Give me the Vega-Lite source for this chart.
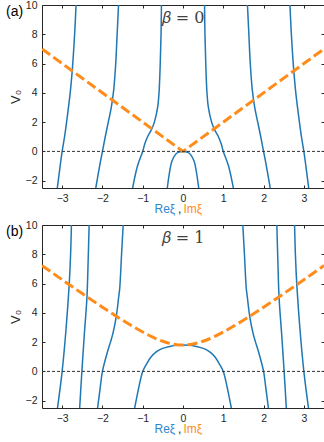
{
  "$schema": "https://vega.github.io/schema/vega-lite/v6.json",
  "padding": {"left": 5, "top": -1, "right": 0, "bottom": 0},
  "background": "white",
  "spacing": 4,
  "config": {
    "view": {"stroke": "#262626", "strokeWidth": 1},
    "axis": {"labelFont": "Liberation Sans", "labelFontSize": 10.5, "labelColor": "#262626", "titleFont": "Liberation Sans", "titleFontWeight": "normal", "titleFontSize": 12, "titleColor": "#262626", "domain": false, "grid": false, "tickColor": "#262626", "tickSize": -3, "labelPadding": 8},
    "title": {"font": "Liberation Sans", "fontSize": 14, "fontWeight": "normal", "color": "#000000"}
  },
  "datasets": {
    "blueA": [
      {"c": "a0R", "x": 0, "y": 0}, {"c": "a0R", "x": 0.06, "y": -0.02}, {"c": "a0R", "x": 0.12, "y": -0.07}, {"c": "a0R", "x": 0.17, "y": -0.16}, {"c": "a0R", "x": 0.21, "y": -0.3}, {"c": "a0R", "x": 0.25, "y": -0.5}, {"c": "a0R", "x": 0.29, "y": -0.8}, {"c": "a0R", "x": 0.32, "y": -1.2}, {"c": "a0R", "x": 0.355, "y": -1.8}, {"c": "a0R", "x": 0.39, "y": -2.5},
      {"c": "a0L", "x": 0, "y": 0}, {"c": "a0L", "x": -0.06, "y": -0.02}, {"c": "a0L", "x": -0.12, "y": -0.07}, {"c": "a0L", "x": -0.17, "y": -0.16}, {"c": "a0L", "x": -0.21, "y": -0.3}, {"c": "a0L", "x": -0.25, "y": -0.5}, {"c": "a0L", "x": -0.29, "y": -0.8}, {"c": "a0L", "x": -0.32, "y": -1.2}, {"c": "a0L", "x": -0.355, "y": -1.8}, {"c": "a0L", "x": -0.39, "y": -2.5},
      {"c": "a1R", "x": 1.25, "y": -2.5}, {"c": "a1R", "x": 1.13, "y": -1}, {"c": "a1R", "x": 1.0, "y": 0}, {"c": "a1R", "x": 0.95, "y": 0.5}, {"c": "a1R", "x": 0.88, "y": 1}, {"c": "a1R", "x": 0.78, "y": 1.5}, {"c": "a1R", "x": 0.71, "y": 2}, {"c": "a1R", "x": 0.63, "y": 3}, {"c": "a1R", "x": 0.595, "y": 4}, {"c": "a1R", "x": 0.565, "y": 6}, {"c": "a1R", "x": 0.545, "y": 8}, {"c": "a1R", "x": 0.535, "y": 10},
      {"c": "a1L", "x": -1.25, "y": -2.5}, {"c": "a1L", "x": -1.13, "y": -1}, {"c": "a1L", "x": -1.0, "y": 0}, {"c": "a1L", "x": -0.95, "y": 0.5}, {"c": "a1L", "x": -0.88, "y": 1}, {"c": "a1L", "x": -0.78, "y": 1.5}, {"c": "a1L", "x": -0.71, "y": 2}, {"c": "a1L", "x": -0.63, "y": 3}, {"c": "a1L", "x": -0.595, "y": 4}, {"c": "a1L", "x": -0.565, "y": 6}, {"c": "a1L", "x": -0.545, "y": 8}, {"c": "a1L", "x": -0.535, "y": 10},
      {"c": "a2R", "x": 2.165, "y": -2.5}, {"c": "a2R", "x": 2.07, "y": -1}, {"c": "a2R", "x": 2.0, "y": 0}, {"c": "a2R", "x": 1.93, "y": 1}, {"c": "a2R", "x": 1.855, "y": 2}, {"c": "a2R", "x": 1.78, "y": 3}, {"c": "a2R", "x": 1.72, "y": 4.2}, {"c": "a2R", "x": 1.67, "y": 6}, {"c": "a2R", "x": 1.635, "y": 8}, {"c": "a2R", "x": 1.6, "y": 10},
      {"c": "a2L", "x": -2.165, "y": -2.5}, {"c": "a2L", "x": -2.07, "y": -1}, {"c": "a2L", "x": -2.0, "y": 0}, {"c": "a2L", "x": -1.93, "y": 1}, {"c": "a2L", "x": -1.855, "y": 2}, {"c": "a2L", "x": -1.78, "y": 3}, {"c": "a2L", "x": -1.72, "y": 4.2}, {"c": "a2L", "x": -1.67, "y": 6}, {"c": "a2L", "x": -1.635, "y": 8}, {"c": "a2L", "x": -1.6, "y": 10},
      {"c": "a3R", "x": 3.12, "y": -2.5}, {"c": "a3R", "x": 3.05, "y": -1}, {"c": "a3R", "x": 3.0, "y": 0}, {"c": "a3R", "x": 2.94, "y": 1}, {"c": "a3R", "x": 2.89, "y": 2}, {"c": "a3R", "x": 2.8, "y": 4}, {"c": "a3R", "x": 2.75, "y": 5.5}, {"c": "a3R", "x": 2.69, "y": 8}, {"c": "a3R", "x": 2.655, "y": 10},
      {"c": "a3L", "x": -3.12, "y": -2.5}, {"c": "a3L", "x": -3.05, "y": -1}, {"c": "a3L", "x": -3.0, "y": 0}, {"c": "a3L", "x": -2.94, "y": 1}, {"c": "a3L", "x": -2.89, "y": 2}, {"c": "a3L", "x": -2.8, "y": 4}, {"c": "a3L", "x": -2.75, "y": 5.5}, {"c": "a3L", "x": -2.69, "y": 8}, {"c": "a3L", "x": -2.655, "y": 10}
    ],
    "blueB": [
      {"c": "b0R", "x": 0, "y": 1.8}, {"c": "b0R", "x": 0.15, "y": 1.78}, {"c": "b0R", "x": 0.3, "y": 1.72}, {"c": "b0R", "x": 0.42, "y": 1.64}, {"c": "b0R", "x": 0.55, "y": 1.52}, {"c": "b0R", "x": 0.68, "y": 1.3}, {"c": "b0R", "x": 0.8, "y": 0.97}, {"c": "b0R", "x": 0.905, "y": 0.5}, {"c": "b0R", "x": 1.0, "y": 0}, {"c": "b0R", "x": 1.09, "y": -1}, {"c": "b0R", "x": 1.2, "y": -2.5},
      {"c": "b0L", "x": 0, "y": 1.8}, {"c": "b0L", "x": -0.15, "y": 1.78}, {"c": "b0L", "x": -0.3, "y": 1.72}, {"c": "b0L", "x": -0.42, "y": 1.64}, {"c": "b0L", "x": -0.55, "y": 1.52}, {"c": "b0L", "x": -0.68, "y": 1.3}, {"c": "b0L", "x": -0.8, "y": 0.97}, {"c": "b0L", "x": -0.905, "y": 0.5}, {"c": "b0L", "x": -1.0, "y": 0}, {"c": "b0L", "x": -1.09, "y": -1}, {"c": "b0L", "x": -1.2, "y": -2.5},
      {"c": "b1R", "x": 2.12, "y": -2.5}, {"c": "b1R", "x": 2.05, "y": -1}, {"c": "b1R", "x": 2.0, "y": 0}, {"c": "b1R", "x": 1.88, "y": 1.29}, {"c": "b1R", "x": 1.8, "y": 2}, {"c": "b1R", "x": 1.735, "y": 2.65}, {"c": "b1R", "x": 1.655, "y": 3.78}, {"c": "b1R", "x": 1.6, "y": 5}, {"c": "b1R", "x": 1.57, "y": 5.7}, {"c": "b1R", "x": 1.525, "y": 8}, {"c": "b1R", "x": 1.485, "y": 10},
      {"c": "b1L", "x": -2.12, "y": -2.5}, {"c": "b1L", "x": -2.05, "y": -1}, {"c": "b1L", "x": -2.0, "y": 0}, {"c": "b1L", "x": -1.88, "y": 1.29}, {"c": "b1L", "x": -1.8, "y": 2}, {"c": "b1L", "x": -1.735, "y": 2.65}, {"c": "b1L", "x": -1.655, "y": 3.78}, {"c": "b1L", "x": -1.6, "y": 5}, {"c": "b1L", "x": -1.57, "y": 5.7}, {"c": "b1L", "x": -1.525, "y": 8}, {"c": "b1L", "x": -1.485, "y": 10},
      {"c": "b2R", "x": 2.565, "y": -2.5}, {"c": "b2R", "x": 2.51, "y": 0}, {"c": "b2R", "x": 2.45, "y": 2.5}, {"c": "b2R", "x": 2.385, "y": 5.03}, {"c": "b2R", "x": 2.355, "y": 7.5}, {"c": "b2R", "x": 2.33, "y": 10},
      {"c": "b2L", "x": -2.565, "y": -2.5}, {"c": "b2L", "x": -2.51, "y": 0}, {"c": "b2L", "x": -2.45, "y": 2.5}, {"c": "b2L", "x": -2.385, "y": 5.03}, {"c": "b2L", "x": -2.355, "y": 7.5}, {"c": "b2L", "x": -2.33, "y": 10},
      {"c": "b3R", "x": 3.115, "y": -2.5}, {"c": "b3R", "x": 3.0, "y": 0}, {"c": "b3R", "x": 2.9, "y": 3}, {"c": "b3R", "x": 2.825, "y": 5.93}, {"c": "b3R", "x": 2.79, "y": 8}, {"c": "b3R", "x": 2.77, "y": 10},
      {"c": "b3L", "x": -3.115, "y": -2.5}, {"c": "b3L", "x": -3.0, "y": 0}, {"c": "b3L", "x": -2.9, "y": 3}, {"c": "b3L", "x": -2.825, "y": 5.93}, {"c": "b3L", "x": -2.79, "y": 8}, {"c": "b3L", "x": -2.77, "y": 10}
    ],
    "orangeA": [
      {"x": -3.5, "y": 7}, {"x": 0, "y": 0}, {"x": 3.5, "y": 7}
    ],
    "orangeB": [
      {"x": -3.5, "y": 7.228}, {"x": -3.0, "y": 6.264}, {"x": -2.5, "y": 5.314}, {"x": -2.0, "y": 4.386}, {"x": -1.5, "y": 3.499}, {"x": -1.25, "y": 3.081}, {"x": -1.0, "y": 2.691}, {"x": -0.75, "y": 2.343}, {"x": -0.5, "y": 2.059}, {"x": -0.25, "y": 1.868}, {"x": 0, "y": 1.8},
      {"x": 0.25, "y": 1.868}, {"x": 0.5, "y": 2.059}, {"x": 0.75, "y": 2.343}, {"x": 1.0, "y": 2.691}, {"x": 1.25, "y": 3.081}, {"x": 1.5, "y": 3.499}, {"x": 2.0, "y": 4.386}, {"x": 2.5, "y": 5.314}, {"x": 3.0, "y": 6.264}, {"x": 3.5, "y": 7.228}
    ],
    "zero": [{"x": -3.5, "y": 0}, {"x": 3.5, "y": 0}],
    "labelA": [{"x": 0, "y": 9.1, "t": "𝛽 = 0"}],
    "labelB": [{"x": 0, "y": 9.1, "t": "𝛽 = 1"}]
  },
  "vconcat": [
    {
      "width": 282,
      "height": 183,
      "title": {"text": "(a)", "anchor": "start", "frame": "bounds", "baseline": "top", "offset": 3, "dx": -3, "dy": 22},
      "resolve": {"axis": {"x": "independent", "y": "independent"}},
      "layer": [
        {
          "data": {"name": "blueA"},
          "mark": {"type": "line", "interpolate": "catmull-rom", "strokeWidth": 1.5, "color": "#1f77b4", "clip": true},
          "encoding": {
            "x": {"field": "x", "type": "quantitative", "scale": {"domain": [-3.5, 3.5], "nice": false, "zero": false}, "axis": {"orient": "bottom", "values": [-3, -2, -1, 0, 1, 2, 3], "title": "Reξ", "titleColor": "#2f86cf", "titleX": 112, "titleAlign": "left", "titleY": 24, "titleBaseline": "alphabetic"}},
            "y": {"field": "y", "type": "quantitative", "scale": {"domain": [-2.5, 10], "nice": false, "zero": false}, "axis": {"orient": "left", "values": [-2, 0, 2, 4, 6, 8, 10], "title": "V₀", "titlePadding": 3, "titleFontSize": 13}},
            "detail": {"field": "c"},
            "order": {"field": "y", "type": "quantitative"}
          }
        },
        {
          "data": {"name": "orangeA"},
          "mark": {"type": "line", "strokeWidth": 3, "color": "#ff8c1a", "strokeDash": [10, 4], "clip": true},
          "encoding": {
            "x": {"field": "x", "type": "quantitative", "axis": {"orient": "bottom", "labels": false, "ticks": false, "title": "Imξ", "titleColor": "#ff8c1a", "titleX": 141, "titleAlign": "left", "titleY": 24, "titleBaseline": "alphabetic"}},
            "y": {"field": "y", "type": "quantitative", "axis": {"orient": "right", "labels": false, "values": [-2, 0, 2, 4, 6, 8, 10], "title": null}}
          }
        },
        {
          "data": {"name": "zero"},
          "mark": {"type": "line", "strokeWidth": 1, "color": "#333333", "strokeDash": [3, 2]},
          "encoding": {
            "x": {"field": "x", "type": "quantitative", "axis": {"orient": "top", "labels": false, "values": [-3, -2, -1, 0, 1, 2, 3], "title": null}},
            "y": {"field": "y", "type": "quantitative", "axis": null}
          }
        },
        {
          "data": {"name": "labelA"},
          "mark": {"type": "text", "font": "DejaVu Serif", "fontSize": 16, "color": "#404040"},
          "encoding": {
            "x": {"field": "x", "type": "quantitative", "axis": {"orient": "bottom", "labels": false, "ticks": false, "title": ",", "titleX": 135.5, "titleAlign": "left", "titleY": 24, "titleBaseline": "alphabetic"}},
            "y": {"field": "y", "type": "quantitative", "axis": null},
            "text": {"field": "t"}
          }
        }
      ]
    },
    {
      "width": 282,
      "height": 183,
      "title": {"text": "(b)", "anchor": "start", "frame": "bounds", "baseline": "top", "offset": 3, "dx": -3, "dy": 22},
      "resolve": {"axis": {"x": "independent", "y": "independent"}},
      "layer": [
        {
          "data": {"name": "blueB"},
          "mark": {"type": "line", "interpolate": "catmull-rom", "strokeWidth": 1.5, "color": "#1f77b4", "clip": true},
          "encoding": {
            "x": {"field": "x", "type": "quantitative", "scale": {"domain": [-3.5, 3.5], "nice": false, "zero": false}, "axis": {"orient": "bottom", "values": [-3, -2, -1, 0, 1, 2, 3], "title": "Reξ", "titleColor": "#2f86cf", "titleX": 112, "titleAlign": "left", "titleY": 24, "titleBaseline": "alphabetic"}},
            "y": {"field": "y", "type": "quantitative", "scale": {"domain": [-2.5, 10], "nice": false, "zero": false}, "axis": {"orient": "left", "values": [-2, 0, 2, 4, 6, 8, 10], "title": "V₀", "titlePadding": 3, "titleFontSize": 13}},
            "detail": {"field": "c"},
            "order": {"field": "y", "type": "quantitative"}
          }
        },
        {
          "data": {"name": "orangeB"},
          "mark": {"type": "line", "interpolate": "monotone", "strokeWidth": 3, "color": "#ff8c1a", "strokeDash": [10, 4], "clip": true},
          "encoding": {
            "x": {"field": "x", "type": "quantitative", "axis": {"orient": "bottom", "labels": false, "ticks": false, "title": "Imξ", "titleColor": "#ff8c1a", "titleX": 141, "titleAlign": "left", "titleY": 24, "titleBaseline": "alphabetic"}},
            "y": {"field": "y", "type": "quantitative", "axis": {"orient": "right", "labels": false, "values": [-2, 0, 2, 4, 6, 8, 10], "title": null}}
          }
        },
        {
          "data": {"name": "zero"},
          "mark": {"type": "line", "strokeWidth": 1, "color": "#333333", "strokeDash": [3, 2]},
          "encoding": {
            "x": {"field": "x", "type": "quantitative", "axis": {"orient": "top", "labels": false, "values": [-3, -2, -1, 0, 1, 2, 3], "title": null}},
            "y": {"field": "y", "type": "quantitative", "axis": null}
          }
        },
        {
          "data": {"name": "labelB"},
          "mark": {"type": "text", "font": "DejaVu Serif", "fontSize": 16, "color": "#404040"},
          "encoding": {
            "x": {"field": "x", "type": "quantitative", "axis": {"orient": "bottom", "labels": false, "ticks": false, "title": ",", "titleX": 135.5, "titleAlign": "left", "titleY": 24, "titleBaseline": "alphabetic"}},
            "y": {"field": "y", "type": "quantitative", "axis": null},
            "text": {"field": "t"}
          }
        }
      ]
    }
  ]
}
